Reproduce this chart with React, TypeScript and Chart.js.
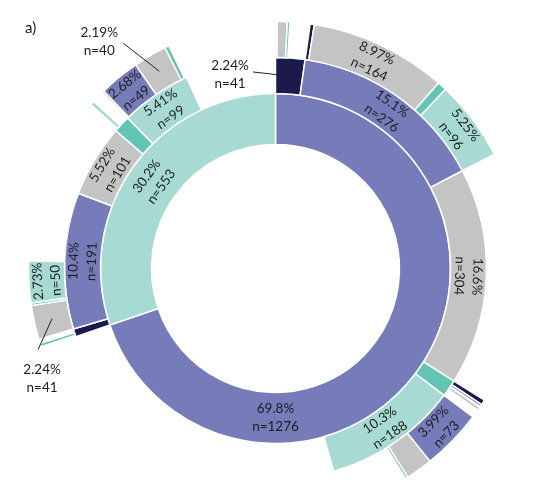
import React, { useEffect, useRef } from 'react';
import { Chart, registerables } from 'chart.js';

Chart.register(...registerables);

// ---------- DATA ----------
// inner ring: top-level groups
const innerValues = [1276, 553];
const innerKinds = ['purple', 'lightTeal'];
const innerLabelModes = ['bottom', 'in'];

// middle ring: children of each inner group ('none' = unassigned remainder)
const middleValues = [41, 276, 304, 24, 188, 443, 11, 191, 101, 24, 99, 127];
const middleKinds = ['navy', 'purple', 'gray', 'teal', 'lightTeal', 'none', 'navy', 'purple', 'gray', 'teal', 'lightTeal', 'none'];
const middleLabelModes = ['out', 'in', 'in', '', 'in', '', '', 'in', 'in', '', 'in', ''];

// outer ring: children of each middle segment
const outerValues = [
  2, 12, 3, 24,
  5, 164, 11, 96,
  304,
  6, 3, 1, 4, 10,
  73, 32, 3, 80,
  443,
  2, 4, 5,
  41, 3, 50, 97,
  101,
  2, 2, 5, 15,
  2, 49, 40, 5, 3,
  127,
];
const outerKinds = [
  'purple', 'gray', 'teal', 'none',
  'navy', 'gray', 'teal', 'lightTeal',
  'none',
  'navy', 'purple', 'none', 'gray', 'none',
  'purple', 'gray', 'teal', 'none',
  'none',
  'gray', 'teal', 'none',
  'gray', 'teal', 'lightTeal', 'none',
  'none',
  'navy', 'gray', 'lightTeal', 'none',
  'navy', 'purple', 'gray', 'teal', 'none',
  'none',
];
const outerLabelModes = [
  '', '', '', '',
  '', 'in', '', 'in',
  '',
  '', '', '', '', '',
  'in', '', '', '',
  '',
  '', '', '',
  'out', '', 'in', '',
  '',
  '', '', '', '',
  '', 'in', 'out', '', '',
  '',
];

const panelLabel = 'a)';

// ---------- STYLE ----------
const palette: Record<string, string> = {
  purple: '#767bba',
  lightTeal: '#a6dad3',
  teal: '#62c4b2',
  gray: '#c4c4c4',
  navy: '#1b1a4f',
  none: 'rgba(0,0,0,0)',
};

// callout placement relative to the segment centroid: [dx, dy]
const callouts: Record<string, { text: [number, number]; line: [number, number] }> = {
  'middle:1:0': { text: [-59, -1], line: [-36, -4] },
  'outer:0:22': { text: [-10, 60], line: [-14, 31] },
  'outer:0:33': { text: [-60, -30], line: [-36, -28] },
};

const FONT = '13.5px Lato, "Open Sans", sans-serif';
const TEXT_COLOR = '#1e1e1e';
const LINE_GAP = 18;

const total = innerValues.reduce((a, b) => a + b, 0);
const pctText = (v: number) => ((v / total) * 100).toPrecision(3) + '%';

const labelPlugin = {
  id: 'sunburstLabels',
  afterDatasetsDraw(chart: any) {
    const ctx = chart.ctx as CanvasRenderingContext2D;
    const rings = [
      { key: 'outer:0', modes: outerLabelModes },
      { key: 'middle:1', modes: middleLabelModes },
      { key: 'inner:2', modes: innerLabelModes },
    ];
    rings.forEach((ring, di) => {
      const meta = chart.getDatasetMeta(di);
      const values = chart.data.datasets[di].data as number[];
      meta.data.forEach((arc: any, i: number) => {
        const mode = ring.modes[i];
        if (!mode) return;
        const p = arc.getProps(['x', 'y', 'startAngle', 'endAngle', 'innerRadius', 'outerRadius'], true);
        const mid = (p.startAngle + p.endAngle) / 2;
        const r = (p.innerRadius + p.outerRadius) / 2;
        const v = values[i];
        const lines = [pctText(v), 'n=' + v];
        ctx.save();
        ctx.font = FONT;
        ctx.fillStyle = TEXT_COLOR;
        ctx.textAlign = 'center';
        ctx.textBaseline = 'middle';
        const drawLines = () => {
          ctx.fillText(lines[0], 0, -LINE_GAP / 2);
          ctx.fillText(lines[1], 0, LINE_GAP / 2);
        };
        if (mode === 'in') {
          const cx = p.x + r * Math.cos(mid);
          const cy = p.y + r * Math.sin(mid);
          let rot = mid + Math.PI / 2;
          let deg = ((rot * 180) / Math.PI) % 360;
          if (deg < 0) deg += 360;
          if (deg > 95 && deg < 265) rot -= Math.PI;
          ctx.translate(cx, cy);
          ctx.rotate(rot);
          drawLines();
        } else if (mode === 'bottom') {
          const a = Math.PI / 2;
          ctx.translate(p.x + r * Math.cos(a), p.y + r * Math.sin(a));
          drawLines();
        } else if (mode === 'out') {
          const c = callouts[`${ring.key}:${i}`];
          const cx = p.x + r * Math.cos(mid);
          const cy = p.y + r * Math.sin(mid);
          ctx.strokeStyle = '#222';
          ctx.lineWidth = 1;
          ctx.beginPath();
          ctx.moveTo(cx + c.line[0], cy + c.line[1]);
          ctx.lineTo(cx, cy);
          ctx.stroke();
          ctx.translate(cx + c.text[0], cy + c.text[1]);
          drawLines();
        }
        ctx.restore();
      });
    });
  },
};

function ringDataset(values: number[], kinds: string[], weight: number) {
  return {
    data: values,
    backgroundColor: kinds.map((k) => palette[k]),
    borderColor: '#ffffff',
    borderWidth: kinds.map((k) => (k === 'none' ? 0 : 1.5)),
    weight,
    clip: false,
  };
}

export default function App() {
  const ref = useRef<HTMLCanvasElement | null>(null);
  useEffect(() => {
    if (!ref.current) return;
    const chart = new Chart(ref.current, {
      type: 'doughnut',
      data: {
        labels: outerValues.map((_, i) => String(i)),
        datasets: [
          ringDataset(outerValues, outerKinds, 36),
          ringDataset(middleValues, middleKinds, 36),
          ringDataset(innerValues, innerKinds, 51),
        ] as any,
      },
      options: {
        animation: false,
        responsive: false,
        events: [],
        radius: 247,
        cutout: '50.2%',
        layout: { padding: { top: 43, bottom: 0, left: 0, right: 0 } },
        plugins: { legend: { display: false }, tooltip: { enabled: false } },
      } as any,
      plugins: [labelPlugin],
    });
    return () => chart.destroy();
  }, []);
  return (
    <div style={{ position: 'absolute', left: 0, top: 0, width: 551, height: 494, overflow: 'hidden', background: '#fff' }}>
      <canvas ref={ref} width={551} height={494} style={{ display: 'block' }} />
      <div
        style={{
          position: 'absolute',
          left: 25,
          top: 18,
          font: '15px Lato, "Open Sans", sans-serif',
          color: '#222',
          lineHeight: '18px',
        }}
      >
        {panelLabel}
      </div>
    </div>
  );
}
